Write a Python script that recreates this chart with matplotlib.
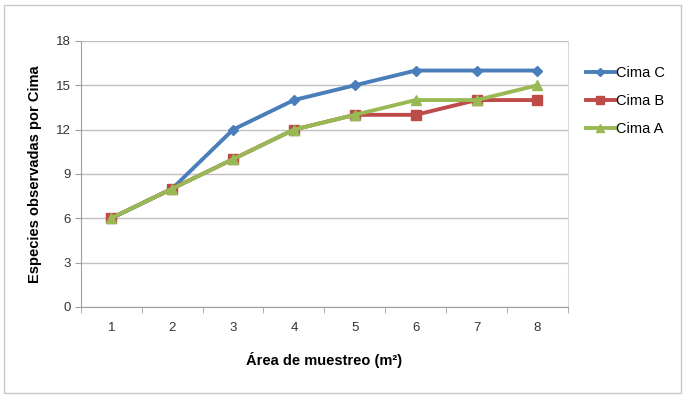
import matplotlib.pyplot as plt
from matplotlib.patches import Rectangle

# data
areas = [1, 2, 3, 4, 5, 6, 7, 8]
cima_c = [6, 8, 12, 14, 15, 16, 16, 16]
cima_b = [6, 8, 10, 12, 13, 13, 14, 14]
cima_a = [6, 8, 10, 12, 13, 14, 14, 15]
y_ticks = [0, 3, 6, 9, 12, 15, 18]

narrow = ['Liberation Sans Narrow', 'Liberation Sans', 'DejaVu Sans']
plt.rcParams['font.family'] = ['Liberation Sans', 'DejaVu Sans']

fig = plt.figure(figsize=(6.85, 3.98), dpi=100)
ax = fig.add_axes([0.118, 0.229, 0.711, 0.668])

# outer frame of the chart object
fig.patches.append(Rectangle((0.006, 0.012), 0.988, 0.976, transform=fig.transFigure,
                             fill=False, edgecolor='#c8c8c8', linewidth=1.0))

ax.plot(areas, cima_c, color='#4a7ebb', marker='D', markersize=5.5, linewidth=2.8,
        label='Cima C', zorder=3)
ax.plot(areas, cima_b, color='#be4b48', marker='s', markersize=7, linewidth=2.8,
        label='Cima B', zorder=4)
ax.plot(areas, cima_a, color='#98b954', marker='^', markersize=7, linewidth=2.8,
        label='Cima A', zorder=5)

ax.set_xlim(0.5, 8.5)
ax.set_ylim(0, 18)
ax.set_yticks(y_ticks)
ax.set_xticks(areas)
ax.set_xticks([x + 0.5 for x in range(0, 9)], minor=True)
ax.grid(axis='y', color='#c0c0c0', linewidth=1.0)
ax.set_axisbelow(True)

ax.spines['top'].set_visible(False)
ax.spines['left'].set_color('#a0a0a0')
ax.spines['bottom'].set_color('#a0a0a0')
ax.spines['right'].set_color('#d8d8d8')
ax.tick_params(axis='y', length=4, color='#a0a0a0', labelsize=9.5, labelcolor='#333333')
ax.tick_params(axis='x', which='major', length=0, pad=11, labelsize=9.5, labelcolor='#333333')
ax.tick_params(axis='x', which='minor', length=4, color='#a0a0a0')
for lab in ax.get_xticklabels() + ax.get_yticklabels():
    lab.set_family(narrow)

ax.set_ylabel('Especies observadas por Cima', fontsize=10.5, fontweight='bold', labelpad=10)
ax.set_xlabel('Área de muestreo (m²)', fontsize=10.5, fontweight='bold', labelpad=13,
              family=narrow)

leg = ax.legend(loc='upper left', bbox_to_anchor=(1.01, 0.955), frameon=False,
                handlelength=2.0, handletextpad=0.05, labelspacing=0.95,
                markerscale=0.8, prop={'family': narrow, 'size': 10.5})

fig.savefig('out.png', dpi=100)
